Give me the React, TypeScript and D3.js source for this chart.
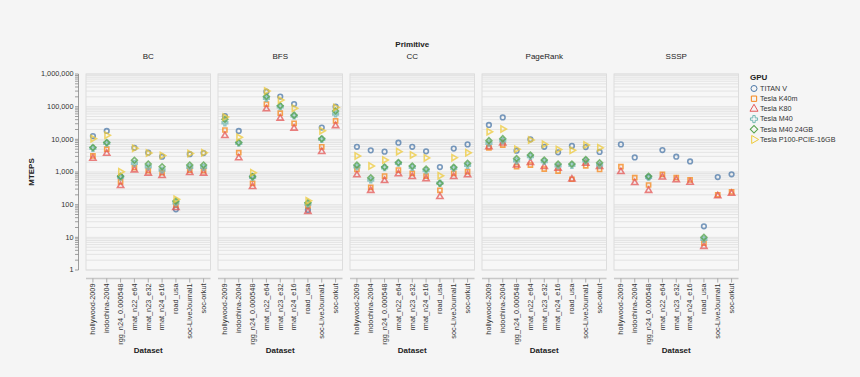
import React from "react";
import * as d3 from "d3";

const categories = ["hollywood-2009", "indochina-2004", "rgg_n24_0.000548", "rmat_n22_e64", "rmat_n23_e32", "rmat_n24_e16", "road_usa", "soc-LiveJournal1", "soc-orkut"];
const gpus = ["TITAN V", "Tesla K40m", "Tesla K80", "Tesla M40", "Tesla M40 24GB", "Tesla P100-PCIE-16GB"];
const primitives = ["BC", "BFS", "CC", "PageRank", "SSSP"];
const colors = ["#4c78a8", "#f58518", "#e45756", "#72b7b2", "#54a24b", "#eeca3b"];
const yTickLabels = [1, 10, 100, 1000, 10000, 100000, 1000000];

// rows follow the gpus order
const bcValues: (number | null)[][] = [
  [12600, 18000, 720, 5500, 3900, 2950, 72, 3500, 3800],
  [3100, 5000, 500, 1350, 1100, 950, 98, 1150, 1100],
  [2600, 3700, 380, 1150, 910, 770, 81, 950, 910],
  [5300, 7600, 700, 1850, 1450, 1150, 115, 1400, 1400],
  [5600, 8000, 740, 2300, 1750, 1450, 130, 1630, 1630],
  [10500, 13300, 1020, 5300, 3800, 3200, 146, 3700, 3900],
];
const bfsValues: (number | null)[][] = [
  [51600, 18000, 750, 288000, 204000, 120000, 69, 23000, 100000],
  [19300, 3900, 450, 120000, 63000, 31000, 91, 5900, 37000],
  [12900, 2700, 355, 85000, 44000, 21700, 61, 4200, 26000],
  [32000, 7600, 690, 180000, 100000, 52000, 105, 10000, 60000],
  [41000, 8000, 720, 204000, 107000, 55000, 115, 10400, 74000],
  [48000, 11500, 950, 300000, 160000, 89000, 132, 18300, 95000],
];
const ccValues: (number | null)[][] = [
  [5900, 4600, 4200, 7900, 5900, 4300, 1420, 5200, 7000],
  [1200, 340, 750, 1150, 910, 750, 275, 910, 1020],
  [810, 270, 540, 870, 720, 610, 175, 720, 810],
  [1450, 570, 1350, 1850, 1390, 1100, 450, 1300, 1600],
  [1630, 670, 1420, 1950, 1520, 1230, 450, 1390, 1850],
  [3100, 1520, 2330, 4200, 3300, 2700, 770, 2750, 3900],
];
const pageRankValues: (number | null)[][] = [
  [27500, 47000, 4500, 10000, 5900, 4000, 6300, 5800, 4100],
  [5500, 6700, 1450, 1630, 1230, 1070, 600, 1550, 1200],
  [5900, 7600, 1630, 1920, 1450, 1300, 600, 1850, 1450],
  [7600, 9100, 2200, 3000, 2100, 1550, 1600, 2200, 1630],
  [9100, 10500, 2600, 3300, 2330, 1750, 1750, 2400, 1920],
  [17100, 20800, 5000, 9500, 7000, 4900, 4600, 6700, 5500],
];
const ssspValues: (number | null)[][] = [
  [7000, 2800, 700, 4700, 2950, 2100, 21.8, 700, 850],
  [1450, 670, 400, 850, 670, 570, 6.6, 200, 245],
  [1020, 470, 270, 690, 570, 480, 5.2, 185, 220],
  [null, null, 690, null, null, null, 8.7, null, null],
  [null, null, 740, null, null, null, 10, null, null],
  [null, null, null, null, null, null, null, null, null],
];
const allValues = [bcValues, bfsValues, ccValues, pageRankValues, ssspValues];

const FONT = "'Liberation Sans', Arial, Helvetica, sans-serif";
const W = 860, H = 377;
const panelLeft = 86, panelW = 124.5, panelStep = 132;
const top = 74, bottom = 270;

const y = d3.scaleLog().domain([1, 1000000]).range([bottom, top]);
const x = d3.scalePoint<string>().domain(categories).range([0, panelW]).padding(0.5);
const yTicks = y.ticks();
const fmt = d3.format(",");

function shapePath(gi: number, size: number): { d: string; rot: number } {
  switch (gi) {
    case 0: return { d: d3.symbol(d3.symbolCircle, size)() as string, rot: 0 };
    case 1: return { d: d3.symbol(d3.symbolSquare, size)() as string, rot: 0 };
    case 2: return { d: d3.symbol(d3.symbolTriangle, size)() as string, rot: 0 };
    case 3: return { d: d3.symbol(d3.symbolCross, size)() as string, rot: 0 };
    case 4: return { d: d3.symbol(d3.symbolSquare, size)() as string, rot: 45 };
    default: return { d: d3.symbol(d3.symbolTriangle, size)() as string, rot: 90 };
  }
}

function Panel({ pi }: { pi: number }) {
  const x0 = panelLeft + pi * panelStep;
  const vals = allValues[pi];
  return (
    <g transform={`translate(${x0},0)`}>
      <rect x={0} y={top} width={panelW} height={bottom - top} fill="#f7f7f7" stroke="#dddddd" />
      {yTicks.map((t, i) => (
        <line key={i} x1={0} x2={panelW} y1={y(t)} y2={y(t)} stroke="#dedede" strokeWidth={0.8} />
      ))}
      <text x={panelW / 2} y={59} textAnchor="middle" fontSize={8} fill="#222" fontFamily={FONT}>{primitives[pi]}</text>
      {gpus.map((g, gi) =>
        vals[gi].map((v, ci) => {
          if (v == null) return null;
          const s = shapePath(gi, 17);
          return (
            <path key={`${gi}-${ci}`} d={s.d}
              transform={`translate(${x(categories[ci])},${y(v)}) rotate(${s.rot})`}
              fill="none" stroke={colors[gi]} strokeWidth={1.6} opacity={0.75} />
          );
        })
      )}
      {/* x axis */}
      <line x1={0} x2={panelW} y1={278.5} y2={278.5} stroke="#c8c8c8" strokeWidth={1.5} />
      {categories.map((c) => (
        <g key={c} transform={`translate(${x(c)},278.5)`}>
          <line y1={0} y2={4} stroke="#999" strokeWidth={0.8} />
          <text transform="rotate(-90)" x={-5} dy="0.32em" textAnchor="end" fontSize={7.3} fill="#333" fontFamily={FONT}>{c}</text>
        </g>
      ))}
      <text x={panelW / 2} y={353} textAnchor="middle" fontSize={8} fontWeight="bold" fill="#222" fontFamily={FONT}>Dataset</text>
    </g>
  );
}

export default function App() {
  return (
    <div style={{ position: "fixed", left: 0, top: 0 }}>
      <svg width={W} height={H} style={{ display: "block" }}>
        <rect width={W} height={H} fill="#f5f5f5" />
        <text x={(panelLeft + panelLeft + 4 * panelStep + panelW) / 2} y={47} textAnchor="middle" fontSize={8} fontWeight="bold" fill="#222" fontFamily={FONT}>Primitive</text>
        {/* y axis */}
        <line x1={78.5} x2={78.5} y1={top} y2={bottom} stroke="#888" strokeWidth={0.8} />
        {yTicks.map((t, i) => (
          <line key={i} x1={75} x2={78.5} y1={y(t)} y2={y(t)} stroke="#888" strokeWidth={0.8} />
        ))}
        {yTickLabels.map((t) => (
          <text key={t} x={73.5} y={y(t)} dy="0.32em" textAnchor="end" fontSize={7.3} fill="#333" fontFamily={FONT}>{fmt(t)}</text>
        ))}
        <text transform={`translate(34,${(top + bottom) / 2}) rotate(-90)`} textAnchor="middle" fontSize={8} fontWeight="bold" fill="#222" fontFamily={FONT}>MTEPS</text>
        {primitives.map((p, pi) => <Panel key={p} pi={pi} />)}
        {/* legend */}
        <text x={750} y={79.5} fontSize={8} fontWeight="bold" fill="#222" fontFamily={FONT}>GPU</text>
        {gpus.map((g, gi) => {
          const s = shapePath(gi, 28);
          const cy = 88.5 + gi * 10.2;
          return (
            <g key={g}>
              <path d={s.d} transform={`translate(754,${cy}) rotate(${s.rot})`} fill="none" stroke={colors[gi]} strokeWidth={1} />
              <text x={760} y={cy} dy="0.32em" fontSize={7.2} fill="#333" fontFamily={FONT}>{g}</text>
            </g>
          );
        })}
      </svg>
    </div>
  );
}
